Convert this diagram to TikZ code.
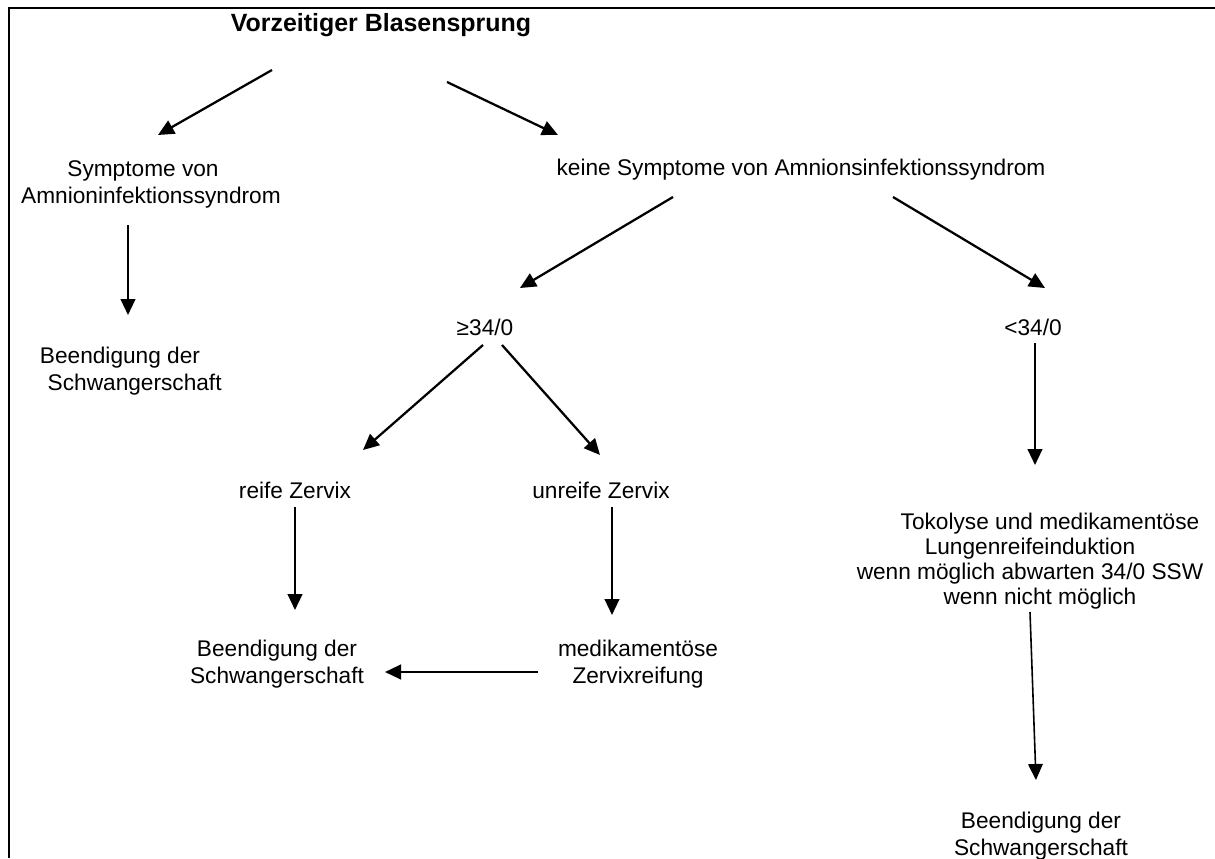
\documentclass[tikz,border=0pt]{standalone}
\usepackage{fontspec}
\setmainfont{Liberation Sans}
\usetikzlibrary{arrows.meta}

\begin{document}
\begin{tikzpicture}[x=0.75pt,y=-0.75pt,>={Triangle[length=12pt,width=11pt]},
	every node/.style={font=\fontsize{17}{20.25}\selectfont,align=center,inner sep=0pt},
	titel/.style={font=\fontsize{18.7}{21}\selectfont\bfseries},
	eng/.style={font=\fontsize{17}{18.75}\selectfont},
	pfeil/.style={->,line width=1.7pt},
	duenn/.style={->,line width=1.2pt}]

			      \useasboundingbox (0,0) rectangle (1215,858);
			      \draw[line width=1.2pt] (9,858) -- (9,8) -- (1215,8);

			      \node[titel] (title) at (381,25) {Vorzeitiger Blasensprung};
			      \node (sym) at (151,184) {Symptome von\hspace*{12pt}\\Amnioninfektionssyndrom};
			      \node (keine) at (801,170) {keine Symptome von Amnionsinfektionssyndrom};
			      \node (ende1) at (128,371) {Beendigung der\hspace*{12pt}\\\hspace*{10pt}Schwangerschaft};
			      \node (ge34) at (485,327) {≥34/0};
			      \node (lt34) at (1033,327) {<34/0};
			      \node (reif) at (295,490) {reife Zervix};
			      \node (unreif) at (601,490) {unreife Zervix};
			      \node (ende2) at (277,664) {Beendigung der\\Schwangerschaft};
			      \node (medi) at (638,664) {medikamentöse\\Zervixreifung};
			      \node[eng] (toko) at (1030,561) {\hspace*{30pt}Tokolyse und medikamentöse\\Lungenreifeinduktion\\wenn möglich abwarten 34/0 SSW\\\hspace*{15pt}wenn nicht möglich};
			      \node (ende3) at (1041,836) {Beendigung der\\Schwangerschaft};

			      \path[pfeil]
			      ([shift={(-109,45)}]title.center) edge ([shift={(7,-49)}]sym.center)
			      ([shift={(66,57)}]title.center) edge ([shift={(-243,-35)}]keine.center)

			      ([shift={(-23,41)}]sym.center) edge ([shift={(0,-56)}]ende1.center)

			      ([shift={(-128,27)}]keine.center) edge ([shift={(35,-39)}]ge34.center)
			      ([shift={(92,27)}]keine.center) edge ([shift={(12,-39)}]lt34.center)

			      ([shift={(-2,18)}]ge34.center) edge ([shift={(68,-40)}]reif.center)
			      ([shift={(17,18)}]ge34.center) edge ([shift={(-1,-35)}]unreif.center)
			      ([shift={(2,16)}]lt34.center) edge ([shift={(5,-96)}]toko.center)

			      ([shift={(0,17)}]reif.center) edge ([shift={(18,-54)}]ende2.center)
			      ([shift={(11,17)}]unreif.center) edge ([shift={(-26,-49)}]medi.center)
			      ([shift={(-100,8)}]medi.center) edge ([shift={(108,8)}]ende2.center)
			      ;
			      \path[duenn]
			      ([shift={(0,51)}]toko.center) edge ([shift={(-5,-56)}]ende3.center)
			      ;
		      \end{tikzpicture}
\end{document}
